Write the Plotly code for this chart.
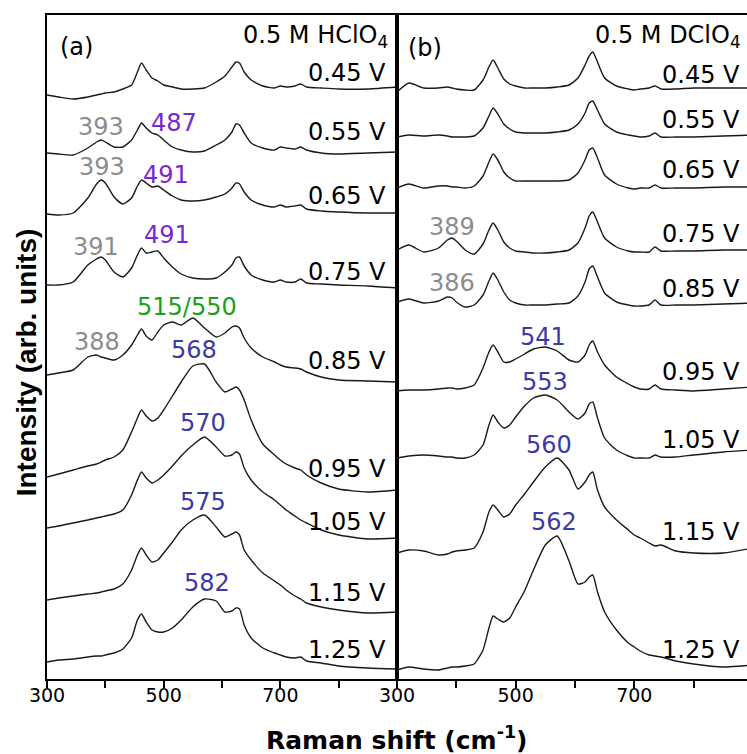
import plotly.graph_objects as go

# Raman shift grid (cm-1) shared by every spectrum
SHIFT = [300, 320, 345, 370, 385, 393, 400, 415, 430, 445,
         455, 462, 470, 480, 490, 500, 515, 530, 550, 570,
         590, 605, 617, 624, 630, 638, 650, 670, 690, 700,
         710, 725, 735, 745, 770, 800, 850, 900]

POTENTIALS = ["0.45 V", "0.55 V", "0.65 V", "0.75 V", "0.85 V",
              "0.95 V", "1.05 V", "1.15 V", "1.25 V"]

# Stacked spectra in 0.5 M HClO4 (arb. units, offset included), one row per potential
HCLO4 = [
    [605, 603, 601, 603, 605, 606, 607, 608, 611, 615, 628, 637, 630, 622, 619, 615, 613, 611, 611, 612,
     618, 624, 633, 638, 637, 628, 620, 614, 612, 614, 613, 614, 616, 613, 612, 611, 611, 613],
    [547, 546, 545, 552, 558, 560, 558, 553, 553, 560, 570, 577, 572, 567, 565, 560, 553, 550, 548, 549,
     555, 560, 568, 576, 575, 567, 557, 552, 550, 553, 552, 551, 553, 550, 547, 546, 547, 548],
    [486, 485, 487, 502, 516, 520, 517, 503, 496, 502, 514, 520, 517, 513, 514, 510, 504, 500, 499, 500,
     503, 506, 512, 517, 516, 508, 500, 495, 493, 495, 493, 494, 495, 491, 489, 488, 487, 487],
    [415, 415, 418, 435, 441, 443, 440, 428, 423, 432, 445, 452, 447, 448, 449, 442, 433, 426, 422, 421,
     422, 428, 435, 442, 443, 434, 425, 420, 418, 420, 418, 418, 421, 417, 416, 415, 414, 412],
    [325, 327, 330, 343, 345, 343, 342, 340, 345, 355, 365, 371, 364, 360, 368, 375, 378, 375, 382, 372,
     363, 367, 373, 374, 372, 362, 352, 343, 338, 335, 333, 332, 331, 328, 323, 320, 319, 318],
    [223, 226, 230, 234, 236, 238, 240, 243, 250, 268, 282, 290, 284, 279, 282, 290, 304, 318, 334, 336,
     318, 308, 311, 313, 310, 300, 280, 256, 245, 240, 236, 232, 230, 225, 217, 211, 208, 210],
    [172, 174, 177, 180, 182, 183, 184, 186, 190, 205, 220, 228, 222, 217, 220, 225, 234, 244, 255, 263,
     253, 244, 245, 248, 246, 232, 220, 208, 200, 195, 190, 184, 180, 177, 170, 165, 161, 162],
    [100, 102, 104, 106, 107, 108, 109, 111, 116, 130, 145, 152, 145, 138, 140, 147, 158, 170, 180, 185,
     173, 163, 166, 168, 165, 150, 140, 127, 119, 115, 110, 104, 101, 97, 93, 90, 87, 88],
    [38, 40, 41, 43, 44, 44, 45, 47, 51, 62, 80, 86, 78, 70, 68, 68, 72, 80, 93, 101,
     99, 88, 89, 92, 91, 75, 62, 52, 47, 45, 43, 42, 43, 39, 37, 34, 32, 31],
]

# Stacked spectra in 0.5 M DClO4
DCLO4 = [
    [608, 617, 612, 612, 613, 612, 611, 610, 610, 620, 633, 640, 632, 621, 616, 614, 612, 612, 612, 613,
     615, 622, 635, 644, 648, 638, 622, 614, 611, 610, 611, 612, 614, 611, 611, 612, 612, 612],
    [563, 565, 564, 565, 564, 563, 563, 563, 564, 572, 584, 592, 586, 576, 571, 568, 567, 567, 567, 568,
     570, 576, 587, 597, 599, 590, 576, 568, 565, 564, 563, 564, 567, 563, 563, 563, 564, 565],
    [512, 516, 512, 514, 514, 513, 513, 512, 514, 524, 538, 546, 540, 528, 522, 519, 519, 519, 519, 519,
     520, 527, 540, 550, 552, 542, 525, 516, 512, 511, 512, 512, 515, 512, 512, 512, 513, 513],
    [450, 455, 448, 452, 460, 462, 459, 450, 446, 456, 470, 477, 470, 458, 452, 449, 448, 447, 447, 448,
     450, 457, 472, 484, 488, 478, 462, 453, 449, 448, 448, 448, 453, 449, 449, 449, 450, 450],
    [398, 401, 397, 399, 403, 402, 398, 393, 395, 405, 419, 427, 420, 408, 400, 397, 395, 395, 395, 396,
     397, 404, 418, 431, 434, 423, 407, 398, 395, 394, 394, 395, 400, 395, 395, 395, 396, 397],
    [309, 310, 310, 311, 312, 312, 311, 312, 315, 332, 348, 355, 348, 338, 338, 341, 346, 351, 353, 349,
     340, 338, 345, 355, 359, 348, 335, 323, 316, 313, 311, 311, 315, 311, 310, 309, 311, 313],
    [242, 244, 245, 244, 243, 243, 242, 242, 245, 255, 275, 285, 278, 272, 275, 283, 294, 302, 305, 300,
     288, 281, 287, 296, 298, 282, 262, 250, 244, 242, 242, 242, 245, 243, 243, 245, 248, 250],
    [147, 150, 149, 145, 146, 148, 149, 150, 152, 168, 188, 195, 190, 183, 186, 195, 206, 218, 233, 242,
     230, 211, 218, 225, 228, 210, 193, 180, 170, 165, 162, 157, 154, 155, 149, 147, 147, 152],
    [30, 33, 31, 30, 32, 33, 33, 34, 36, 50, 72, 84, 81, 78, 82, 93, 109, 130, 155, 164,
     139, 116, 118, 123, 125, 108, 88, 70, 57, 53, 49, 45, 44, 43, 39, 36, 33, 35],
]

# Peak assignments (cm-1) and the band family each belongs to
PEAKS_HCLO4 = ["393", "487", "393", "491", "391", "491", "515/550", "388", "568", "570", "575", "582"]
BAND_HCLO4 = ["low", "mid", "low", "mid", "low", "mid", "split", "low", "high", "high", "high", "high"]
PEAKS_DCLO4 = ["389", "386", "541", "553", "560", "562"]
BAND_DCLO4 = ["low", "low", "high", "high", "high", "high"]

# --- presentation -----------------------------------------------------------
BAND_COLOR = {"low": "#8c8c8c", "mid": "#7a26d2", "split": "#1f9e1f", "high": "#3b3ba6"}
PEAK_POS_HCLO4 = [(393, 573), (518, 577), (394, 533), (504, 525), (384, 453), (506, 465),
                  (540, 393), (386, 358), (552, 350), (568, 277), (568, 198), (574, 117)]
PEAK_POS_DCLO4 = [(393, 473), (393, 417), (546, 363), (550, 318), (556, 255), (565, 178)]
VLABEL_Y_HCLO4 = [627, 568, 504, 428, 339, 231, 178, 107, 50]
VLABEL_Y_DCLO4 = [625, 580, 530, 466, 411, 328, 260, 168, 50]

FONT = "DejaVu Sans"
LBL = 24
LINE = dict(color="#1a1a1a", width=1.4, shape="spline", smoothing=0.6)

fig = go.Figure()
for spec in HCLO4:
    fig.add_trace(go.Scatter(x=SHIFT, y=spec, mode="lines", line=LINE,
                             xaxis="x", yaxis="y", showlegend=False, hoverinfo="skip"))
for spec in DCLO4:
    fig.add_trace(go.Scatter(x=SHIFT, y=spec, mode="lines", line=LINE,
                             xaxis="x2", yaxis="y2", showlegend=False, hoverinfo="skip"))

ann = []
for (px, py), txt, band in zip(PEAK_POS_HCLO4, PEAKS_HCLO4, BAND_HCLO4):
    ann.append(dict(x=px, y=py, xref="x", yref="y", text=txt, showarrow=False,
                    font=dict(family=FONT, size=LBL, color=BAND_COLOR[band])))
for (px, py), txt, band in zip(PEAK_POS_DCLO4, PEAKS_DCLO4, BAND_DCLO4):
    ann.append(dict(x=px, y=py, xref="x2", yref="y2", text=txt, showarrow=False,
                    font=dict(family=FONT, size=LBL, color=BAND_COLOR[band])))
for lab, ya in zip(POTENTIALS, VLABEL_Y_HCLO4):
    ann.append(dict(x=885, y=ya, xref="x", yref="y", text=lab, showarrow=False,
                    xanchor="right", font=dict(family=FONT, size=LBL, color="black")))
for lab, yb in zip(POTENTIALS, VLABEL_Y_DCLO4):
    ann.append(dict(x=882, y=yb, xref="x2", yref="y2", text=lab, showarrow=False,
                    xanchor="right", font=dict(family=FONT, size=LBL, color="black")))

ann += [
    dict(x=350, y=653, xref="x", yref="y", text="(a)", showarrow=False,
         font=dict(family=FONT, size=LBL, color="black")),
    dict(x=347, y=652, xref="x2", yref="y2", text="(b)", showarrow=False,
         font=dict(family=FONT, size=LBL, color="black")),
    dict(x=888, y=664, xref="x", yref="y", text="0.5 M HClO<sub>4</sub>", showarrow=False,
         xanchor="right", font=dict(family=FONT, size=LBL, color="black")),
    dict(x=884, y=664, xref="x2", yref="y2", text="0.5 M DClO<sub>4</sub>", showarrow=False,
         xanchor="right", font=dict(family=FONT, size=LBL, color="black")),
    dict(x=0.5, y=-0.089, xref="paper", yref="paper", text="<b>Raman shift (cm<sup>-1</sup>)</b>",
         showarrow=False, xanchor="center", yanchor="middle",
         font=dict(family=FONT, size=25, color="black")),
    dict(x=-0.03, y=0.477, xref="paper", yref="paper", text="<b>Intensity (arb. units)</b>",
         showarrow=False, textangle=-90, xanchor="center", yanchor="middle",
         font=dict(family="Liberation Sans", size=28, color="black")),
]

xcommon = dict(showline=True, linecolor="black", linewidth=2, mirror=True,
               ticks="outside", ticklen=7, tickwidth=2, tickcolor="black",
               tickvals=[300, 500, 700], ticklabelstandoff=-9,
               minor=dict(tickvals=[400, 600, 800], ticks="outside", ticklen=7,
                          tickwidth=2, tickcolor="black", showgrid=False),
               tickfont=dict(family=FONT, size=19, color="black"),
               showgrid=False, zeroline=False, fixedrange=True)

fig.update_layout(
    width=747, height=754,
    margin=dict(l=47, r=0, t=15, b=75),
    paper_bgcolor="white", plot_bgcolor="white",
    xaxis=dict(domain=[0, 0.5], range=[300, 900], anchor="y", **xcommon),
    xaxis2=dict(domain=[0.5, 1.0], range=[300, 890], anchor="y2", **xcommon),
    yaxis=dict(range=[21, 685], showline=True, linecolor="black", linewidth=2, mirror=True,
               showticklabels=False, ticks="", showgrid=False, zeroline=False, anchor="x"),
    yaxis2=dict(range=[21, 685], showline=True, linecolor="black", linewidth=2,
                showticklabels=False, ticks="", showgrid=False, zeroline=False, anchor="x2"),
    annotations=ann,
)

fig.write_html("out.html")
